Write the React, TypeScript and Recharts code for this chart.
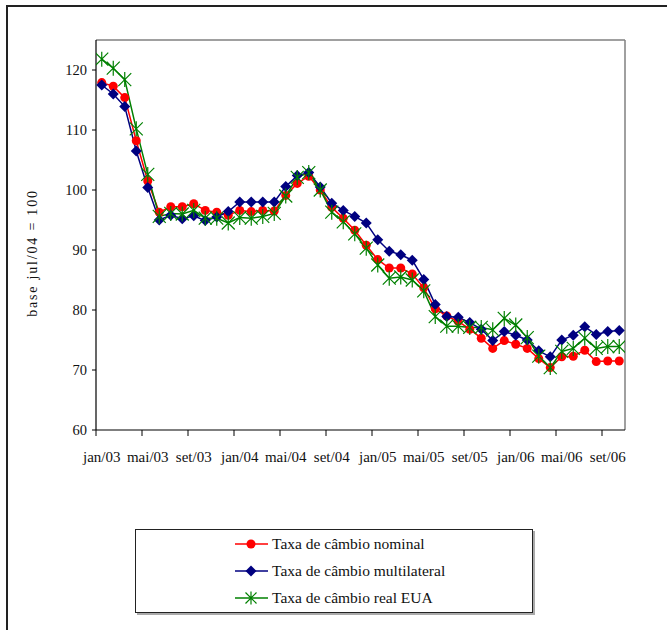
import React from "react";
import {
  LineChart,
  Line,
  XAxis,
  YAxis,
  Legend,
  ReferenceLine,
} from "recharts";

// meses jan/03 .. out/06
const months = [
  "jan/03", "fev/03", "mar/03", "abr/03", "mai/03", "jun/03", "jul/03", "ago/03", "set/03", "out/03", "nov/03", "dez/03",
  "jan/04", "fev/04", "mar/04", "abr/04", "mai/04", "jun/04", "jul/04", "ago/04", "set/04", "out/04", "nov/04", "dez/04",
  "jan/05", "fev/05", "mar/05", "abr/05", "mai/05", "jun/05", "jul/05", "ago/05", "set/05", "out/05", "nov/05", "dez/05",
  "jan/06", "fev/06", "mar/06", "abr/06", "mai/06", "jun/06", "jul/06", "ago/06", "set/06", "out/06",
];

const nominal = [
  117.9, 117.3, 115.4, 108.2, 101.5, 96.3, 97.2, 97.2, 97.7, 96.6, 96.3, 95.8,
  96.6, 96.4, 96.6, 96.5, 99.1, 101.1, 102.3, 100.0, 97.1, 95.3, 93.3, 90.8,
  88.4, 87.0, 87.0, 86.0, 83.7, 80.2, 79.0, 78.1, 76.8, 75.3, 73.6, 74.9,
  74.3, 73.6, 71.9, 70.4, 72.2, 72.3, 73.3, 71.4, 71.5, 71.5,
];

const multilateral = [
  117.5, 116.0, 113.9, 106.5, 100.4, 95.0, 95.8, 95.2, 95.7, 94.9, 95.5, 96.4,
  98.0, 98.0, 98.0, 98.0, 100.6, 102.4, 102.9, 100.5, 97.8, 96.6, 95.6, 94.5,
  91.7, 89.8, 89.2, 88.3, 85.1, 80.9, 78.9, 78.8, 77.9, 76.8, 74.9, 76.4,
  75.8, 75.0, 73.2, 72.2, 75.0, 75.8, 77.2, 75.9, 76.4, 76.6,
];

const realEua = [
  121.8, 120.3, 118.4, 110.2, 102.6, 95.6, 96.1, 96.0, 96.6, 95.3, 95.3, 94.5,
  95.4, 95.3, 95.6, 96.1, 99.0, 102.1, 102.9, 100.0, 96.3, 94.7, 92.7, 90.3,
  87.5, 85.3, 85.5, 85.0, 83.2, 78.9, 77.3, 77.3, 77.1, 77.1, 76.7, 78.6,
  77.5, 75.4, 72.3, 70.4, 73.1, 73.6, 75.3, 73.6, 73.9, 73.9,
];

const seriesOrder = ["nominal", "multilateral", "realEua"];
const xTicks = [0, 4, 8, 12, 16, 20, 24, 28, 32, 36, 40, 44];
const yTicks = [60, 70, 80, 90, 100, 110, 120];

const data = months.map((m, i) => ({
  x: i + 0.5,
  mes: m,
  nominal: nominal[i],
  multilateral: multilateral[i],
  realEua: realEua[i],
}));

const FONT = "'Liberation Serif', 'DejaVu Serif', serif";
const RED = "#ff0000";
const NAVY = "#000080";
const GREEN = "#008000";

const CircleDot = (p: any) => <circle cx={p.cx} cy={p.cy} r={4.5} fill={RED} />;

const DiamondDot = (p: any) => {
  const s = 5.5;
  return (
    <path
      d={`M${p.cx},${p.cy - s} L${p.cx + s},${p.cy} L${p.cx},${p.cy + s} L${p.cx - s},${p.cy} Z`}
      fill={NAVY}
    />
  );
};

const StarDot = (p: any) => {
  const s = 6.5;
  return (
    <path
      d={`M${p.cx - s},${p.cy - s} L${p.cx + s},${p.cy + s} M${p.cx - s},${p.cy + s} L${p.cx + s},${p.cy - s} M${p.cx},${p.cy - s - 1} L${p.cx},${p.cy + s + 1}`}
      stroke={GREEN}
      strokeWidth={1.2}
      fill="none"
    />
  );
};

const MonthTick = ({ x, y, payload }: any) => (
  <text x={x + 5.75} y={y} dy="0.71em" textAnchor="middle" fontFamily={FONT} fontSize={15} fill="#111">
    {months[payload.value]}
  </text>
);

const legendMarker = (key: string) => {
  if (key === "nominal") return <circle cx={16} cy={7} r={4.5} fill={RED} />;
  if (key === "multilateral") return <path d="M16,1.5 L21.5,7 L16,12.5 L10.5,7 Z" fill={NAVY} />;
  return <path d="M10.5,1.5 L21.5,12.5 M10.5,12.5 L21.5,1.5 M16,0.5 L16,13.5" stroke={GREEN} strokeWidth={1.2} />;
};

const LegendBox = ({ payload }: any) => {
  const items = [...(payload || [])].sort(
    (a: any, b: any) => seriesOrder.indexOf(a.dataKey) - seriesOrder.indexOf(b.dataKey)
  );
  return (
    <div
      style={{
        width: 396,
        height: 82,
        border: "1px solid #222",
        boxShadow: "2px 2px 0 #aaa",
        background: "#fff",
        boxSizing: "content-box",
        paddingTop: 0,
      }}
    >
      {items.map((item: any) => (
        <div key={item.dataKey} style={{ display: "flex", alignItems: "center", height: 27, marginLeft: 99 }}>
          <svg width={33} height={14} style={{ marginRight: 4 }}>
            <line x1={0} y1={7} x2={33} y2={7} stroke={item.color} strokeWidth={1.5} />
            {legendMarker(item.dataKey)}
          </svg>
          <span style={{ fontFamily: FONT, fontSize: 15.5, color: "#111" }}>{item.value}</span>
        </div>
      ))}
    </div>
  );
};

export default function App() {
  return (
    <div style={{ position: "absolute", left: 0, top: 0, width: 667, height: 630, overflow: "hidden", background: "#fff" }}>
      <div
        style={{
          position: "absolute",
          left: 6,
          top: 5,
          width: 720,
          height: 720,
          border: "2px solid #222",
        }}
      />
      <div style={{ position: "absolute", left: 0, top: 0 }}>
        <LineChart width={667} height={630} data={data} margin={{ top: 40, right: 42, bottom: 170, left: 40 }}>
          <ReferenceLine y={125} stroke="#808080" strokeWidth={1.5} />
          <ReferenceLine x={46} stroke="#808080" strokeWidth={1.5} />
          <XAxis
            type="number"
            dataKey="x"
            domain={[0, 46]}
            ticks={xTicks}
            interval={0}
            tick={<MonthTick />}
            tickSize={6}
            tickMargin={15}
            axisLine={{ stroke: "#000", strokeWidth: 1.2 }}
            tickLine={{ stroke: "#000" }}
            height={30}
            allowDataOverflow
          />
          <YAxis
            type="number"
            domain={[60, 125]}
            ticks={yTicks}
            interval={0}
            width={56}
            tickSize={4}
            tickMargin={5}
            axisLine={{ stroke: "#000", strokeWidth: 1.2 }}
            tickLine={{ stroke: "#000" }}
            tick={{ fontFamily: FONT, fontSize: 14.5, fill: "#111" }}
            allowDataOverflow
            label={({ viewBox }: any) => {
              const cx = viewBox.x - 8;
              const cy = viewBox.y + viewBox.height / 2 + 18;
              return (
                <text
                  x={cx}
                  y={cy}
                  transform={`rotate(-90, ${cx}, ${cy})`}
                  textAnchor="middle"
                  dominantBaseline="central"
                  fontFamily={FONT}
                  fontSize={14}
                  letterSpacing={1.8}
                  fill="#111"
                >
                  base jul/04 = 100
                </text>
              );
            }}
          />
          <Legend
            layout="horizontal"
            verticalAlign="middle"
            align="center"
            wrapperStyle={{ position: "absolute", left: 135, top: 529, width: 400 }}
            content={<LegendBox />}
          />
          <Line
            type="linear"
            dataKey="nominal"
            name="Taxa de câmbio nominal"
            stroke={RED}
            strokeWidth={1.5}
            dot={<CircleDot />}
            activeDot={false}
            isAnimationActive={false}
          />
          <Line
            type="linear"
            dataKey="multilateral"
            name="Taxa de câmbio multilateral"
            stroke={NAVY}
            strokeWidth={1.5}
            dot={<DiamondDot />}
            activeDot={false}
            isAnimationActive={false}
          />
          <Line
            type="linear"
            dataKey="realEua"
            name="Taxa de câmbio real EUA"
            stroke={GREEN}
            strokeWidth={1.5}
            dot={<StarDot />}
            activeDot={false}
            isAnimationActive={false}
          />
        </LineChart>
      </div>
    </div>
  );
}
